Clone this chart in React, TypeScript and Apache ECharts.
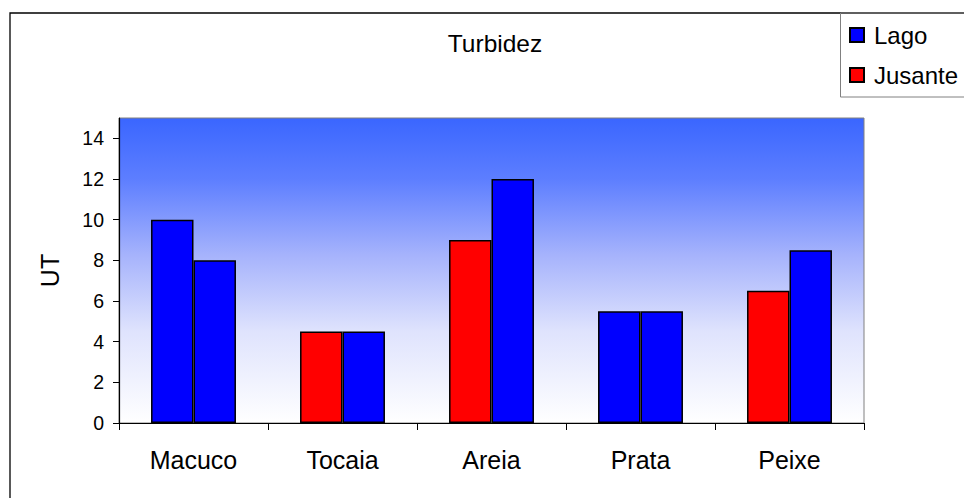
import React, { useEffect, useRef } from "react";
import * as echarts from "echarts";

// Turbidity per site (UT)
const categories = ["Macuco", "Tocaia", "Areia", "Prata", "Peixe"];
const jusanteValues = [10, 4.5, 9, 5.5, 6.5];
const lagoValues = [8, 4.5, 12, 5.5, 8.5];
const yTicks = [0, 2, 4, 6, 8, 10, 12, 14];

const BLUE = "#0000ff";
const RED = "#ff0000";
// Fill of each left-hand bar, by site
const jusanteFills = [BLUE, RED, RED, BLUE, RED];

const FONT = "'Liberation Sans', Arial, sans-serif";

export default function App() {
  const ref = useRef<HTMLDivElement>(null);

  useEffect(() => {
    if (!ref.current) return;
    const chart = echarts.init(ref.current, undefined, { renderer: "svg" });

    const option = {
      animation: false,
      backgroundColor: "#ffffff",
      textStyle: { fontFamily: FONT, color: "#000" },
      title: {
        text: "Turbidez",
        left: 495,
        top: 31,
        padding: 0,
        textAlign: "center",
        textStyle: { fontFamily: FONT, fontSize: 24.5, fontWeight: "normal", color: "#000" },
      },
      legend: {
        orient: "vertical",
        left: 849,
        top: 23,
        padding: 0,
        itemWidth: 14,
        itemHeight: 14,
        itemGap: 16,
        icon: "rect",
        data: ["Lago", "Jusante"],
        textStyle: { fontFamily: FONT, fontSize: 24, color: "#000", padding: [0, 0, 4, 5] },
      },
      graphic: [
        {
          type: "polyline",
          shape: { points: [[10, 498], [10, 13], [964, 13]] },
          style: { stroke: "#000", lineWidth: 1.3, fill: "none" },
          silent: true,
        },
        {
          type: "rect",
          shape: { x: 840.5, y: 13, width: 130, height: 84 },
          style: { stroke: "#808080", lineWidth: 1, fill: "none" },
          silent: true,
        },
      ],
      grid: {
        left: 119,
        top: 118,
        right: 100,
        bottom: 75,
        show: true,
        borderColor: "#808080",
        borderWidth: 1,
        backgroundColor: new echarts.graphic.LinearGradient(0, 0, 0, 1, [
          { offset: 0, color: "#3a66ff" },
          { offset: 0.2, color: "#5d7eff" },
          { offset: 0.45, color: "#a6b3fc" },
          { offset: 0.7, color: "#dfe3fd" },
          { offset: 1, color: "#ffffff" },
        ]),
      },
      xAxis: {
        type: "category",
        data: categories,
        axisLine: { show: true, lineStyle: { color: "#000", width: 1.2 } },
        axisTick: { show: true, length: 7, lineStyle: { color: "#000" } },
        axisLabel: { fontFamily: FONT, fontSize: 25, color: "#000", margin: 24 },
        splitLine: { show: false },
      },
      yAxis: {
        type: "value",
        min: 0,
        max: 15,
        interval: 2,
        name: "UT",
        nameLocation: "middle",
        nameGap: 57,
        nameTextStyle: { fontFamily: FONT, fontSize: 25, color: "#000" },
        axisLine: { show: true, lineStyle: { color: "#000", width: 1.2 } },
        axisTick: { show: true, length: 6, lineStyle: { color: "#000" }, customValues: yTicks },
        axisLabel: { fontFamily: FONT, fontSize: 19.5, color: "#000", margin: 15, customValues: yTicks },
        splitLine: { show: false },
      },
      series: [
        {
          name: "Jusante",
          type: "bar",
          barGap: "0%",
          barCategoryGap: "43%",
          itemStyle: { color: RED, borderColor: "#000", borderWidth: 1.5 },
          data: jusanteValues.map((v, i) => ({
            value: v,
            itemStyle: { color: jusanteFills[i], borderColor: "#000", borderWidth: 1.5 },
          })),
        },
        {
          name: "Lago",
          type: "bar",
          barGap: "0%",
          barCategoryGap: "43%",
          itemStyle: { color: BLUE, borderColor: "#000", borderWidth: 1.5 },
          data: lagoValues,
        },
      ],
    };

    chart.setOption(option as any);
    return () => chart.dispose();
  }, []);

  return (
    <div
      ref={ref}
      style={{ position: "fixed", left: 0, top: 0, width: 964, height: 498 }}
    />
  );
}
